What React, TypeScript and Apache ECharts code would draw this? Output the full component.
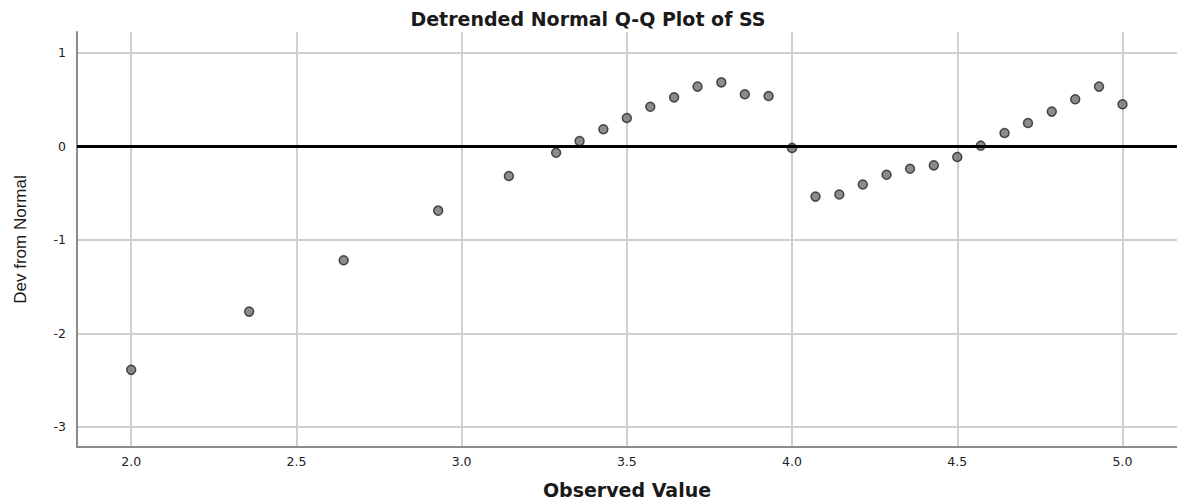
import React, { useEffect, useRef } from "react";
import * as echarts from "echarts";

const observed: number[] = [
  2.0, 2.357, 2.643, 2.929, 3.143, 3.286, 3.357, 3.429, 3.5, 3.571, 3.643, 3.714,
  3.786, 3.857, 3.929, 4.0, 4.071, 4.143, 4.214, 4.286, 4.357, 4.429, 4.5, 4.571,
  4.643, 4.714, 4.786, 4.857, 4.929, 5.0,
];
const devFromNormal: number[] = [
  -2.39, -1.768, -1.22, -0.69, -0.32, -0.071, 0.053, 0.179, 0.3, 0.42, 0.52, 0.635,
  0.68, 0.553, 0.535, -0.02, -0.54, -0.517, -0.41, -0.306, -0.242, -0.206, -0.117, 0.004,
  0.139, 0.246, 0.368, 0.5, 0.635, 0.446,
];
const xTicks: number[] = [2.0, 2.5, 3.0, 3.5, 4.0, 4.5, 5.0];
const yTicks: number[] = [-3, -2, -1, 0, 1];

const titleText = "Detrended Normal Q-Q Plot of SS";
const xName = "Observed Value";
const yName = "Dev from Normal";

export default function App() {
  const ref = useRef<HTMLDivElement>(null);
  useEffect(() => {
    if (!ref.current) return;
    const chart = echarts.init(ref.current, null, { renderer: "svg" });
    const points = observed.map((x, i) => [x, devFromNormal[i]]);
    chart.setOption({
      animation: false,
      backgroundColor: "#ffffff",
      graphic: [
        {
          type: "text",
          x: 588,
          y: 19,
          style: {
            text: titleText,
            font: "bold 19px 'DejaVu Sans'",
            fill: "#1a1a1a",
            align: "center",
            verticalAlign: "middle",
          },
        },
      ],
      grid: { left: 77, right: 0, top: 32, bottom: 57, containLabel: false },
      xAxis: {
        type: "value",
        min: 1.836,
        max: 5.165,
        name: xName,
        nameLocation: "middle",
        nameGap: 33,
        nameTextStyle: { fontFamily: "DejaVu Sans", fontWeight: "bold", fontSize: 19, color: "#1a1a1a" },
        axisLine: { show: true, onZero: false, lineStyle: { color: "#8c8c8c", width: 2 } },
        axisTick: { show: false, customValues: xTicks },
        axisLabel: {
          customValues: xTicks,
          formatter: (v: number) => v.toFixed(1),
          fontFamily: "DejaVu Sans",
          fontSize: 12.5,
          color: "#222",
          margin: 8,
        },
        splitLine: { show: true, lineStyle: { color: "#cfcfcf", width: 2 } },
      },
      yAxis: {
        type: "value",
        min: -3.214,
        max: 1.218,
        name: yName,
        nameLocation: "middle",
        nameRotate: 90,
        nameGap: 48,
        nameTextStyle: { fontFamily: "Liberation Sans", fontSize: 17, color: "#1a1a1a" },
        axisLine: { show: true, onZero: false, lineStyle: { color: "#8c8c8c", width: 2 } },
        axisTick: { show: false, customValues: yTicks },
        axisLabel: {
          customValues: yTicks,
          fontFamily: "DejaVu Sans",
          fontSize: 12.5,
          color: "#222",
          margin: 11,
        },
        splitLine: { show: true, lineStyle: { color: "#cfcfcf", width: 2 } },
      },
      series: [
        {
          type: "scatter",
          data: points,
          symbol: "circle",
          symbolSize: 9,
          itemStyle: { color: "#6f6f6f", borderColor: "#262626", borderWidth: 1.5 },
          markLine: {
            silent: true,
            symbol: "none",
            label: { show: false },
            lineStyle: { color: "#000", width: 3, type: "solid" },
            data: [{ yAxis: 0 }],
          },
          z: 3,
        },
      ],
    });
    return () => chart.dispose();
  }, []);
  return <div ref={ref} style={{ width: 1177, height: 504, position: "absolute", left: 0, top: 0 }} />;
}
